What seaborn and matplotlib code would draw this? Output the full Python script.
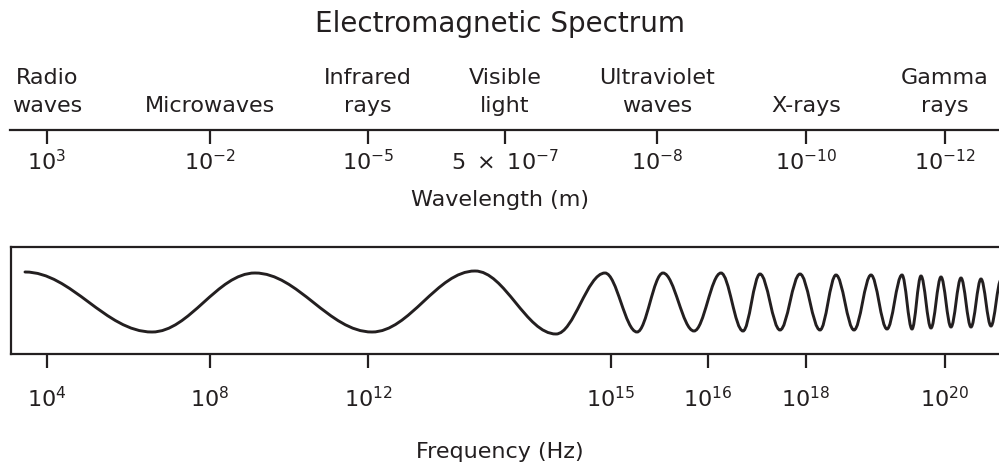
import matplotlib
matplotlib.use("Agg")
import matplotlib.pyplot as plt
from matplotlib.path import Path
from matplotlib.patches import PathPatch
import seaborn as sns

### electromagnetic spectrum diagram
sns.set_theme(style='white')
plt.rcParams['font.family'] = ['DejaVu Sans']
plt.rcParams['mathtext.fontset'] = 'dejavusans'

INK = '#231f20'

### data (positions along the spectrum strip, left -> right)
band_names = ['Radio\nwaves', 'Microwaves', 'Infrared\nrays', 'Visible\nlight',
              'Ultraviolet\nwaves', 'X-rays', 'Gamma\nrays']
wl_pos = [47, 210, 368, 505, 657, 806, 945]
wl_labels = [r'$10^{3}$', r'$10^{-2}$', r'$10^{-5}$', r'$5\ \times\ 10^{-7}$',
             r'$10^{-8}$', r'$10^{-10}$', r'$10^{-12}$']

freq_pos = [47, 210, 368, 611, 708, 806, 945]
freq_labels = [r'$10^{4}$', r'$10^{8}$', r'$10^{12}$', r'$10^{15}$',
               r'$10^{16}$', r'$10^{18}$', r'$10^{20}$']

# crests / troughs of the drawn wave (position, height)
wave_x = [25, 152, 255, 372, 475, 556, 605, 637, 663, 694, 721, 743, 760, 780,
          800, 820, 836, 854, 871, 887, 902, 912, 921, 931, 941, 951, 961, 971,
          981, 991, 1001]
wave_y = [272, 332, 273, 332, 271, 334, 273, 332, 273, 331, 273, 331, 274, 330,
          274, 330, 275, 330, 275, 329, 275, 329, 276, 328, 277, 327, 278, 327,
          279, 326, 280]

W, H = 999, 466
fig = plt.figure(figsize=(W / 100, H / 100), dpi=100)


def box(x0, y0, x1, y1):
    return [x0 / W, 1 - y1 / H, (x1 - x0) / W, (y1 - y0) / H]


### wavelength strip
ax_top = fig.add_axes(box(10, 0, 999, 130))
ax_top.set_xlim(10, 999)
ax_top.set_ylim(130, 0)
ax_top.patch.set_alpha(0)
for s in ['top', 'left', 'right']:
    ax_top.spines[s].set_visible(False)
ax_top.spines['bottom'].set_color(INK)
ax_top.spines['bottom'].set_linewidth(1.6)
ax_top.set_yticks([])
ax_top.set_xticks(wl_pos, wl_labels)
ax_top.tick_params(axis='x', bottom=True, direction='out', length=10, width=1.6,
                   color=INK, pad=3.5, labelsize=16, labelcolor=INK)
for x, name in zip(wl_pos, band_names):
    ax_top.text(x, 116, name, ha='center', va='bottom', fontsize=16,
                color=INK, linespacing=1.5)

### frequency box with wave
ax_box = fig.add_axes(box(11, 247, 1000, 354))
ax_box.set_xlim(11, 1000)
ax_box.set_ylim(354, 247)
ax_box.patch.set_alpha(0)
ax_box.spines['right'].set_visible(False)
for s in ['top', 'left', 'bottom']:
    ax_box.spines[s].set_color(INK)
    ax_box.spines[s].set_linewidth(1.6)
ax_box.set_yticks([])
ax_box.set_xticks(freq_pos, freq_labels)
ax_box.tick_params(axis='x', bottom=True, direction='out', length=10, width=1.6,
                   color=INK, pad=13, labelsize=16, labelcolor=INK)

k = 0.364
verts = [(wave_x[0], wave_y[0])]
codes = [Path.MOVETO]
for (x0, y0), (x1, y1) in zip(zip(wave_x[:-1], wave_y[:-1]), zip(wave_x[1:], wave_y[1:])):
    d = x1 - x0
    verts += [(x0 + k * d, y0), (x1 - k * d, y1), (x1, y1)]
    codes += [Path.CURVE4] * 3
ax_box.add_patch(PathPatch(Path(verts, codes), fill=False, lw=2.1,
                           edgecolor=INK, capstyle='round'))

### titles
fig.text(500 / W, 1 - 31.5 / H, 'Electromagnetic Spectrum', ha='center',
         va='baseline', fontsize=20, color=INK)
fig.text(500 / W, 1 - 206 / H, 'Wavelength (m)', ha='center', va='baseline',
         fontsize=16, color=INK)
fig.text(500 / W, 1 - 458 / H, 'Frequency (Hz)', ha='center', va='baseline',
         fontsize=16, color=INK)

fig.savefig('out.png', dpi=100)
